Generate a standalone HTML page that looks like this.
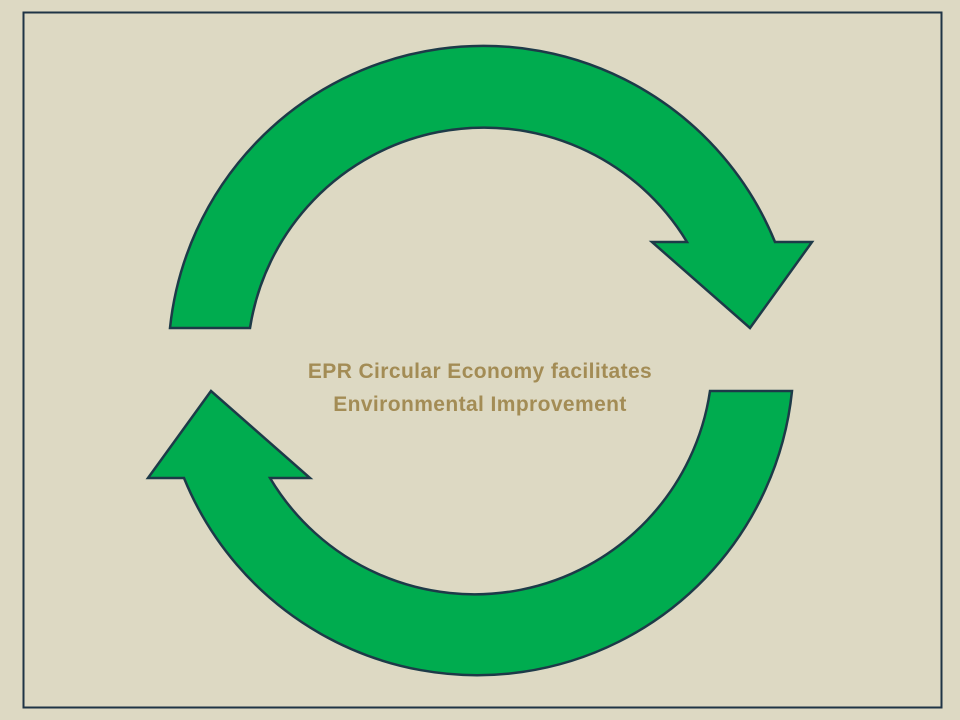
<!DOCTYPE html>
<html><head><style>
html,body{margin:0;padding:0;background:#ddd9c3;}
svg{display:block}
</style></head><body>
<svg width="960" height="720" viewBox="0 0 960 720" xmlns="http://www.w3.org/2000/svg">
<rect x="0" y="0" width="960" height="720" fill="#ddd9c3"/>
<rect x="23.5" y="12.5" width="918" height="695" fill="none" stroke="#1f3446" stroke-width="2"/>
<path d="M170,328 A315,315 0 0 1 775,242 L812,242 L750,328 L652,242 L687,242 A237,237 0 0 0 250,328 Z" fill="#00ac4f" stroke="#1d3a48" stroke-width="2.5" stroke-linejoin="miter"/>
<path d="M792,391 A316.5,316.5 0 0 1 184,478 L148,478 L211,391 L310,478 L270,478 A238,238 0 0 0 710,391 Z" fill="#00ac4f" stroke="#1d3a48" stroke-width="2.5" stroke-linejoin="miter"/>
<g font-family="Liberation Sans, sans-serif" font-weight="bold" font-size="21" fill="#a38c55" text-anchor="middle" letter-spacing="0.4">
<text x="480" y="378">EPR Circular Economy facilitates</text>
<text x="480" y="411">Environmental Improvement</text>
</g>
</svg>
</body></html>
